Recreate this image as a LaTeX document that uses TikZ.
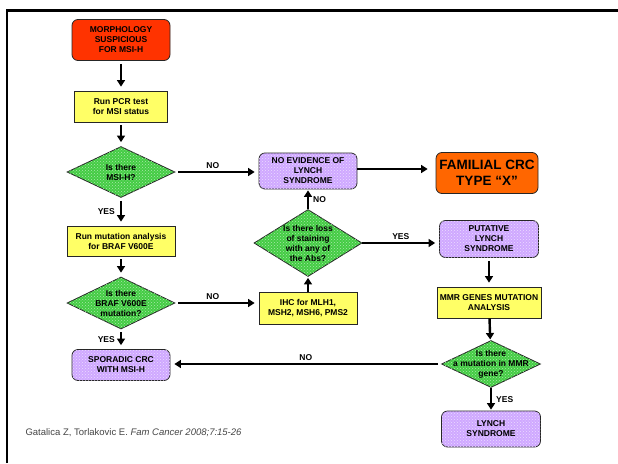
\documentclass[tikz,border=0pt]{standalone}
\usepackage{fontspec}
\setmainfont{Liberation Sans}
\usepackage{tikz}
\usetikzlibrary{calc,shapes,arrows.meta,patterns}

\definecolor{msired}{HTML}{FF3300}
\definecolor{famorange}{HTML}{FF6600}
\definecolor{boxyellow}{HTML}{FFFF66}
\definecolor{boxpurple}{HTML}{CFA8FF}
\definecolor{diagreen}{HTML}{44CC44}
\definecolor{citegray}{HTML}{444444}

\begin{document}
\begin{tikzpicture}[x=1pt,y=-1pt,
    txt/.style={font=\fontsize{8.5}{10}\selectfont\bfseries, align=center},
    box/.style={txt, draw=black!85, line width=0.8pt, inner sep=0pt},
    ybox/.style={box, fill=boxyellow},
    rbox/.style={box, rounded corners=6pt},
    pbox/.style={rbox, fill=boxpurple, postaction={pattern=crosshatch dots, pattern color=white!60!boxpurple}},
    dia/.style={diamond, draw=black!85, line width=0.8pt, inner sep=0pt, fill=diagreen,
        postaction={pattern=crosshatch dots, pattern color=white!55!diagreen}},
    arr/.style={-{Triangle[length=6.5pt,width=8pt]}, line width=2.4pt, shorten >=4pt, shorten <=3pt},
    lbl/.style={txt, inner sep=2pt}]
    \useasboundingbox (0,0) rectangle (618,463);
    \draw[line width=2.5pt] (7,463) -- (7,10.5) -- (618,10.5);

    % left column
    \node[rbox, fill=msired, minimum width=98, minimum height=41] (morph) at (121,40) {MORPHOLOGY\\SUSPICIOUS\\FOR MSI-H};
    \node[ybox, minimum width=93, minimum height=31] (pcr) at (121,106.5) {Run PCR test\\for MSI status};
    \node[dia, minimum width=108, minimum height=51] (d1) at (121,172) {};
    \node[txt] (d1t) at (d1) {Is there\\MSI-H?};
    \node[ybox, minimum width=108, minimum height=30] (braf) at (121,241) {Run mutation analysis\\for BRAF V600E};
    \node[dia, minimum width=108, minimum height=52] (d2) at (121,303) {};
    \node[txt] (d2t) at (d2) {Is there\\BRAF V600E\\mutation?};
    \node[pbox, minimum width=98, minimum height=31] (spor) at (121,365) {SPORADIC CRC\\WITH MSI-H};

    % middle column
    \node[pbox, minimum width=98, minimum height=36] (noev) at (308,171) {NO EVIDENCE OF\\LYNCH\\SYNDROME};
    \node[dia, minimum width=108, minimum height=67] (d3) at (308,243) {};
    \node[txt] (d3t) at (d3) {Is there loss\\of staining\\with any of\\the Abs?};
    \node[ybox, minimum width=98, minimum height=32] (ihc) at (308,308) {IHC for MLH1,\\MSH2, MSH6, PMS2};

    % right column
    \node[rbox, fill=famorange, minimum width=102, minimum height=41,
        font=\fontsize{13.5}{15.5}\selectfont\bfseries] (fam) at (487,173) {FAMILIAL CRC\\TYPE \textquotedblleft X\textquotedblright};
    \node[pbox, minimum width=99, minimum height=37] (put) at (489,239) {PUTATIVE\\LYNCH\\SYNDROME};
    \node[ybox, minimum width=104, minimum height=31] (mmr) at (489,302.5) {MMR GENES MUTATION\\ANALYSIS};
    \node[dia, minimum width=99, minimum height=47] (d4) at (491,364) {};
    \node[txt] (d4t) at (d4) {Is there\\a mutation in MMR\\gene?};
    \node[pbox, minimum width=99, minimum height=36] (lynch) at (491,429) {LYNCH\\SYNDROME};

    \node[anchor=base west, text=citegray, font=\fontsize{9.5}{11}\selectfont] (cite) at (22,435)
        {Gatalica Z, Torlakovic E. \textit{Fam Cancer 2008;7:15-26}};

    % connectors
    \draw[arr] (morph) -- (pcr);
    \draw[arr] (pcr) -- (d1);
    \draw[arr] (d1) -- node[lbl, left=3pt] (y1) {YES} (braf);
    \draw[arr] (braf) -- (d2);
    \draw[arr] (d2) -- node[lbl, left=3pt] (y2) {YES} (spor);
    \draw[arr] (d1.east) -- node[lbl, above, pos=0.45] (n1) {NO} (d1.east -| noev.west);
    \draw[arr] (d2.east) -- node[lbl, above, pos=0.45] (n2) {NO} (d2.east -| ihc.west);
    \draw[arr, shorten <=0pt, shorten >=1pt] (ihc) -- (d3);
    \draw[arr, shorten <=0pt, shorten >=1pt] (d3) -- node[lbl, right=2pt] (n3) {NO} (noev);
    \draw[arr, shorten <=0pt, shorten >=8pt] (noev.east |- 0,169) -- (fam.west |- 0,169);
    \draw[arr, shorten <=0pt] (d3.east) -- node[lbl, above] (y3) {YES} (d3.east -| put.west);
    \draw[arr] (put) -- (mmr);
    \draw[arr, shorten <=0pt, shorten >=1pt] (mmr) -- (d4);
    \draw[arr, shorten <=0pt, shorten >=1pt] (d4) -- node[lbl, right=2pt] (y4) {YES} (lynch);
    \draw[arr] (d4.west) -- node[lbl, above] (n4) {NO} (d4.west -| spor.east);
\end{tikzpicture}
\end{document}
